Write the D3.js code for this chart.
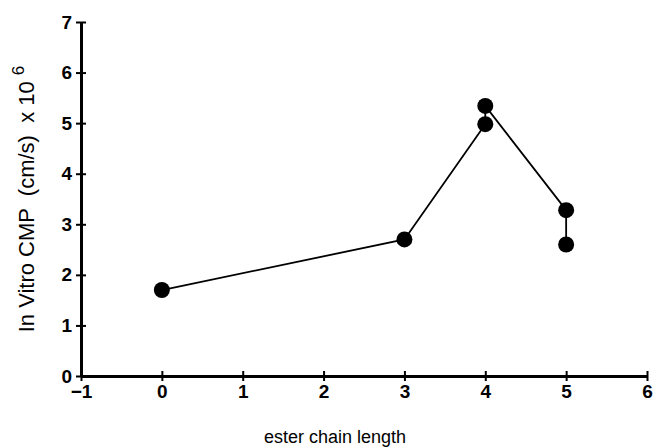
<!DOCTYPE html>
<html>
<head>
<meta charset="utf-8">
<script src="https://cdn.jsdelivr.net/npm/d3@7"></script>
<style>
  body { margin: 0; background: #fff; }
  svg { display: block; }
</style>
</head>
<body>
<svg id="chart" width="654" height="448"></svg>
<script>
// measured values, in plotting order of the connecting line
var chainLength = [0, 3, 4, 4, 5, 5];
var cmp = [1.70, 2.70, 4.98, 5.34, 3.28, 2.60];
var xTicks = [-1, 0, 1, 2, 3, 4, 5, 6];
var yTicks = [0, 1, 2, 3, 4, 5, 6, 7];

var svg = d3.select("#chart");

var x = d3.scaleLinear().domain([-1, 6]).range([81, 647]);
var y = d3.scaleLinear().domain([0, 7]).range([376, 22]);

var points = chainLength.map(function(d, i) { return [d, cmp[i]]; });

// x axis
var gx = svg.append("g")
    .attr("transform", "translate(0," + y(0) + ")")
    .call(d3.axisBottom(x)
      .tickValues(xTicks)
      .tickSizeOuter(0)
      .tickFormat(function(d) { return d < 0 ? "\u2212" + Math.abs(d) : d; }));
gx.select(".domain").attr("stroke-width", 3);
gx.selectAll(".tick line").attr("y1", -5).attr("y2", 5).attr("stroke-width", 2);
gx.selectAll(".tick text")
    .attr("y", 9)
    .attr("dy", "0.71em")
    .style("font", "bold 19px 'Liberation Sans', Arial, sans-serif")
    .attr("fill", "#000");

// y axis
var gy = svg.append("g")
    .attr("transform", "translate(" + x(-1) + ",0)")
    .call(d3.axisLeft(y)
      .tickValues(yTicks)
      .tickSizeOuter(0)
      .tickFormat(d3.format("d")));
gy.select(".domain").attr("stroke-width", 3);
gy.selectAll(".tick line").attr("x1", -5).attr("x2", 5).attr("stroke-width", 2);
gy.selectAll(".tick text")
    .attr("x", -9)
    .style("font", "bold 19px 'Liberation Sans', Arial, sans-serif")
    .attr("fill", "#000");

// connecting line
var line = d3.line()
    .x(function(d) { return x(d[0]); })
    .y(function(d) { return y(d[1]); });

svg.append("path")
    .datum(points)
    .attr("d", line)
    .attr("fill", "none")
    .attr("stroke", "#000")
    .attr("stroke-width", 1.8);

svg.append("g")
  .selectAll("circle")
  .data(points)
  .enter().append("circle")
    .attr("cx", function(d) { return x(d[0]); })
    .attr("cy", function(d) { return y(d[1]); })
    .attr("r", 8)
    .attr("fill", "#000");

// axis titles
svg.append("text")
    .attr("x", 335)
    .attr("y", 443)
    .attr("text-anchor", "middle")
    .style("font", "18px 'Liberation Sans', Arial, sans-serif")
    .text("ester chain length");

var ylab = svg.append("text")
    .attr("transform", "translate(34,199) rotate(-90)")
    .attr("text-anchor", "middle")
    .style("font", "22px 'Liberation Sans', Arial, sans-serif")
    .style("white-space", "pre")
    .attr("xml:space", "preserve");
ylab.append("tspan").text("In Vitro CMP  (cm/s)  x 10 ");
ylab.append("tspan").attr("dy", -10).style("font-size", "17px").text("6");
</script>
</body>
</html>
